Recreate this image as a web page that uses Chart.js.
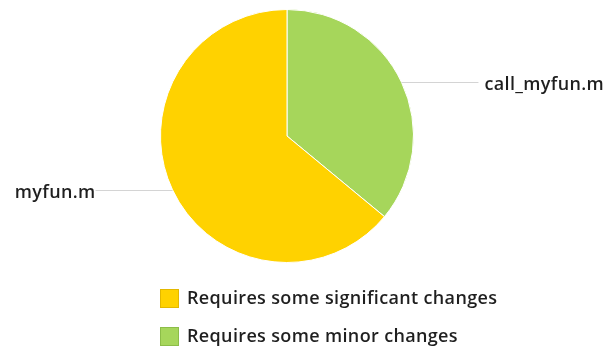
<!DOCTYPE html>
<html>
<head>
<meta charset="utf-8">
<script src="https://cdn.jsdelivr.net/npm/chart.js@4/dist/chart.umd.min.js"></script>
<style>
  html, body { margin: 0; padding: 0; background: #ffffff; }
  #wrap { width: 609px; height: 354px; position: relative; }
</style>
</head>
<body>
<div id="wrap"><canvas id="c" width="609" height="354"></canvas></div>
<script>
// Files and their change categories
const fileNames = ['call_myfun.m', 'myfun.m'];
const categories = ['Requires some minor changes', 'Requires some significant changes'];
const shares = [36, 64];
const sliceColors = ['#a6d65b', '#ffd200'];
const boxBorders = ['#8cbd48', '#e3b800'];
// legend lists the significant category first
const legendOrder = [1, 0];

const FONT = '600 18px "Open Sans", "DejaVu Sans", sans-serif';
const SPACING = '0.35px';
const TEXT = '#1f1f1f';

// Slice name labels with horizontal leader lines from each slice's mid angle
const sliceLabels = {
  id: 'sliceLabels',
  afterDatasetsDraw(chart) {
    const ctx = chart.ctx;
    const meta = chart.getDatasetMeta(0);
    ctx.save();
    ctx.font = FONT;
    ctx.letterSpacing = SPACING;
    ctx.textBaseline = 'middle';
    meta.data.forEach((arc, i) => {
      const p = arc.getProps(['x', 'y', 'startAngle', 'endAngle', 'outerRadius'], true);
      const mid = (p.startAngle + p.endAngle) / 2;
      const ex = p.x + Math.cos(mid) * p.outerRadius;
      const ey = Math.round(p.y + Math.sin(mid) * p.outerRadius) + 0.5;
      const right = Math.cos(mid) >= 0;
      const lineEnd = right ? ex + 77 : ex - 77;
      ctx.strokeStyle = '#d4d4d4';
      ctx.lineWidth = 1;
      ctx.beginPath();
      ctx.moveTo(ex, ey);
      ctx.lineTo(lineEnd, ey);
      ctx.stroke();
      ctx.fillStyle = TEXT;
      ctx.textAlign = right ? 'left' : 'right';
      ctx.fillText(fileNames[i], right ? lineEnd + 6 : lineEnd, ey + 2);
    });
    ctx.restore();
  }
};

// Vertical legend under the pie
const stackedLegend = {
  id: 'stackedLegend',
  afterDraw(chart) {
    const ctx = chart.ctx;
    ctx.save();
    ctx.font = FONT;
    ctx.letterSpacing = SPACING;
    ctx.textBaseline = 'middle';
    ctx.textAlign = 'left';
    legendOrder.forEach((idx, row) => {
      const top = 289 + row * 38;
      ctx.fillStyle = sliceColors[idx];
      ctx.fillRect(160, top, 19, 19);
      ctx.strokeStyle = boxBorders[idx];
      ctx.lineWidth = 1;
      ctx.strokeRect(160.5, top + 0.5, 18, 18);
      ctx.fillStyle = TEXT;
      ctx.fillText(categories[idx], 187, top + 10);
    });
    ctx.restore();
  }
};

new Chart(document.getElementById('c'), {
  type: 'pie',
  data: {
    labels: categories,
    datasets: [{
      data: shares,
      backgroundColor: sliceColors,
      borderColor: '#ffffff',
      borderWidth: 1
    }]
  },
  options: {
    responsive: false,
    animation: false,
    layout: { padding: { top: 9, bottom: 91, left: 160, right: 195 } },
    plugins: {
      legend: { display: false },
      tooltip: { enabled: false }
    }
  },
  plugins: [sliceLabels, stackedLegend]
});
</script>
</body>
</html>
